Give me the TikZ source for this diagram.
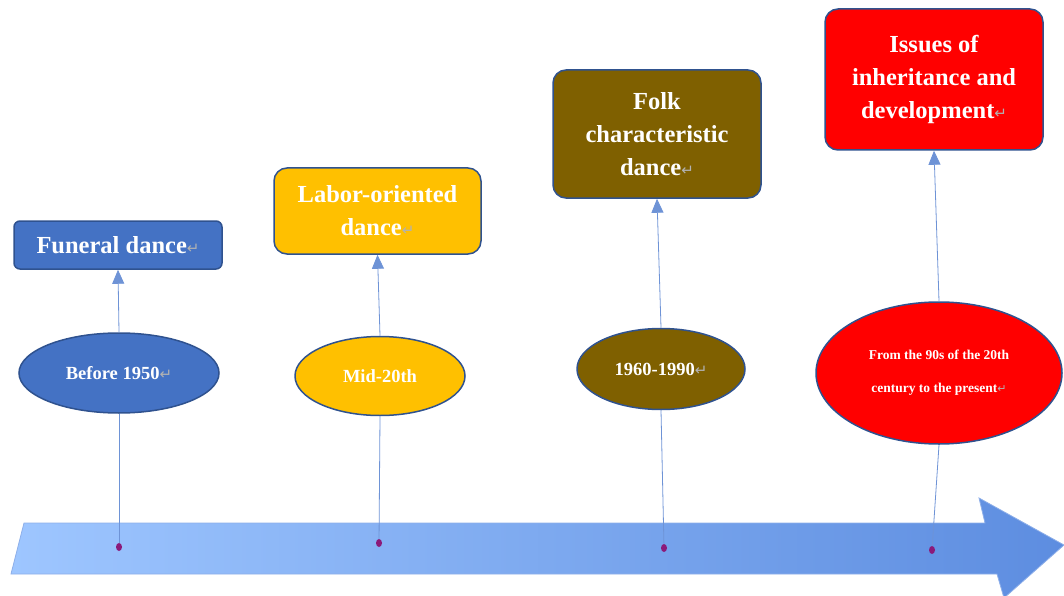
\documentclass[tikz,border=0pt]{standalone}
\usepackage{fontspec}
\setmainfont{Liberation Serif}
\newfontfamily\symfont{DejaVu Sans}
\usetikzlibrary{shapes.geometric,arrows.meta}
\definecolor{bxblue}{HTML}{4472C4}
\definecolor{bxgold}{HTML}{FFC000}
\definecolor{bxbrown}{HTML}{7F6000}
\definecolor{bxred}{HTML}{FF0000}
\definecolor{edgec}{HTML}{2F528F}
\definecolor{dotc}{HTML}{8B1A7A}
\definecolor{arrL}{HTML}{9EC6FF}
\definecolor{arrR}{HTML}{5D8DE0}
\definecolor{linec}{HTML}{6E93D6}
\newcommand\parmark{{\symfont\mdseries\fontsize{15}{15}\selectfont\textcolor{black!30}{↵}}}
\newcommand\smallmark{{\symfont\mdseries\fontsize{11}{11}\selectfont\textcolor{black!30}{↵}}}
\begin{document}
\begin{tikzpicture}[x=1pt,y=-1pt,
  box/.style={draw=edgec, line width=1.5pt, rounded corners=13pt, text=white,
    font=\bfseries\fontsize{24.5}{33}\selectfont, align=center, inner sep=0pt},
  ell/.style={ellipse, draw=edgec, line width=1.5pt, text=white,
    font=\bfseries\fontsize{18.5}{22}\selectfont, align=center, inner sep=0pt},
  conn/.style={draw=linec, line width=0.8pt, -{Triangle[width=12pt,length=14pt]}},
  stem/.style={draw=linec, line width=0.8pt},
  tdot/.style={ellipse, fill=dotc, minimum width=6pt, minimum height=8pt, inner sep=0pt}]
\useasboundingbox (0,0) rectangle (1064,596);
% timeline arrow
\shadedraw[left color=arrL, right color=arrR, draw=arrR!70, line width=0.8pt]
  (24,523) -- (985,523) -- (979,498) -- (1064,545) -- (1004,598) -- (997,574) -- (11,574) -- cycle;
% boxes
\node[box, fill=bxblue, rounded corners=6pt, minimum width=208pt, minimum height=48pt] (b1) at (118,245) {Funeral dance\parmark};
\node[box, fill=bxgold, minimum width=207pt, minimum height=86pt] (b2) at (377.5,211) {Labor-oriented\\dance\parmark};
\node[box, fill=bxbrown, minimum width=208pt, minimum height=128pt] (b3) at (657,134) {Folk\\characteristic\\dance\parmark};
\node[box, fill=bxred, minimum width=218pt, minimum height=141pt] (b4) at (934,79.5) {Issues of\\inheritance and\\development\parmark};
% ellipses
\node[ell, fill=bxblue, minimum width=200pt, minimum height=80pt] (e1) at (119,373) {Before 1950\parmark};
\node[ell, fill=bxgold, minimum width=170pt, minimum height=79pt] (e2) at (380,376) {Mid-20th};
\node[ell, fill=bxbrown, minimum width=168pt, minimum height=81pt] (e3) at (661,369) {1960-1990\parmark};
\node[ell, fill=bxred, minimum width=246pt, minimum height=142pt,
  font=\bfseries\fontsize{13.5}{33}\selectfont] (e4) at (939,373) {From the 90s of the 20th\\century to the present\smallmark};
% dots
\node[tdot] (d1) at (119,547) {};
\node[tdot] (d2) at (379,543) {};
\node[tdot] (d3) at (664,548) {};
\node[tdot] (d4) at (932,550) {};
% connectors
\draw[conn] (e1.north) -- (b1.south);
\draw[conn] (e2.north) -- (b2.south);
\draw[conn] (e3.north) -- (b3.south);
\draw[conn] (e4.north) -- (b4.south);
\draw[stem] (e1.south) -- (d1);
\draw[stem] (e2.south) -- (d2);
\draw[stem] (e3.south) -- (d3);
\draw[stem] (e4.south) -- (d4);
\end{tikzpicture}
\end{document}
